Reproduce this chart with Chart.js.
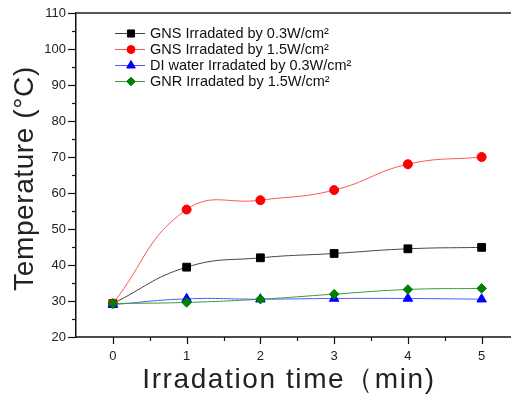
<!DOCTYPE html>
<html><head><meta charset="utf-8">
<script src="https://cdn.jsdelivr.net/npm/chart.js@4/dist/chart.umd.min.js"></script>
<style>html,body{margin:0;padding:0;background:#fff;overflow:hidden}#wrap{width:511px;height:399px}canvas{display:block}</style>
</head><body><div id="wrap"><canvas id="c" width="511" height="399"></canvas></div>
<script>
const times = [0, 1, 2, 3, 4, 5];
const gnsLow = [29.3, 39.4, 42.0, 43.2, 44.5, 44.9];
const gnsHigh = [29.3, 55.4, 58.0, 60.8, 68.0, 70.0];
const waterLow = [29.0, 30.6, 30.5, 30.7, 30.7, 30.5];
const gnrHigh = [29.3, 29.6, 30.5, 31.9, 33.2, 33.5];
const seriesLabels = ['GNS Irradated by 0.3W/cm²','GNS Irradated by 1.5W/cm²','DI water Irradated by 0.3W/cm²','GNR Irradated by 1.5W/cm²'];
const xTicks = [0, 1, 2, 3, 4, 5];
const yTicks = [20, 30, 40, 50, 60, 70, 80, 90, 100, 110];
const xTitle = 'Irradation time（min)';
const yTitle = 'Temperature (°C)';

function pts(arr){ return times.map((t,i)=>({x:t,y:arr[i]})); }
const styles = [
  {c:'#000000', p:'rect', r:5.5, order:4},
  {c:'#ff0000', p:'circle', r:4.5, order:3},
  {c:'#0000ff', p:'triangle', r:5.5, order:2},
  {c:'#008000', p:'rectRot', r:4.8, order:1}
];
const lineCols = ['#444444','#ff5555','#5555ff','#3a9a3a'];
const data = [gnsLow, gnsHigh, waterLow, gnrHigh];
const FONT = '"Liberation Sans", Arial, sans-serif';

const decor = {
  id:'decor',
  afterDraw(chart){
    const ctx = chart.ctx, xs = chart.scales.x, ys = chart.scales.y, a = chart.chartArea;
    ctx.save();
    // top frame
    ctx.strokeStyle = '#555'; ctx.lineWidth = 2;
    ctx.beginPath(); ctx.moveTo(a.left, a.top); ctx.lineTo(chart.width, a.top); ctx.stroke();
    // bottom axis line extended to the edge
    ctx.strokeStyle = '#111'; ctx.lineWidth = 1.5;
    ctx.beginPath(); ctx.moveTo(a.left, a.bottom); ctx.lineTo(chart.width, a.bottom); ctx.stroke();
    ctx.strokeStyle = '#111'; ctx.lineWidth = 1.2;
    // x ticks
    for (let v = 0; v <= 5.01; v += 0.5) {
      const px = Math.round(xs.getPixelForValue(v)) + 0.5;
      const len = (Math.abs(v - Math.round(v)) < 1e-6) ? 7 : 4;
      ctx.beginPath(); ctx.moveTo(px, a.bottom); ctx.lineTo(px, a.bottom + len); ctx.stroke();
    }
    // y ticks
    for (let v = 20; v <= 110.01; v += 5) {
      const py = Math.round(ys.getPixelForValue(v)) + 0.5;
      const len = (v % 10 === 0) ? 8 : 4;
      ctx.beginPath(); ctx.moveTo(a.left, py); ctx.lineTo(a.left - len, py); ctx.stroke();
    }
    // legend
    ctx.font = '14.5px ' + FONT;
    ctx.textBaseline = 'middle';
    const rows = [33, 49, 65, 81];
    for (let i = 0; i < 4; i++) {
      const y = rows[i];
      ctx.strokeStyle = lineCols[i]; ctx.lineWidth = 1;
      ctx.beginPath(); ctx.moveTo(115, y + 0.5); ctx.lineTo(145, y + 0.5); ctx.stroke();
      ctx.fillStyle = styles[i].c; ctx.strokeStyle = styles[i].c;
      Chart.helpers.drawPoint(ctx, {pointStyle: styles[i].p, radius: styles[i].r - 0.5, borderWidth: 1}, 131, y + 0.5);
      ctx.fillStyle = '#111';
      ctx.fillText(seriesLabels[i], 150, y + 1);
    }
    // axis titles
    ctx.fillStyle = '#222';
    ctx.font = '28px ' + FONT;
    ctx.textBaseline = 'alphabetic';
    ctx.textAlign = 'center';
    ctx.letterSpacing = '1.6px';
    ctx.fillText(xTitle, 289, 388);
    ctx.save();
    ctx.translate(33, 178.5);
    ctx.rotate(-Math.PI / 2);
    ctx.letterSpacing = '0.6px';
    ctx.fillText(yTitle, 0, 0);
    ctx.restore();
    ctx.restore();
  }
};

new Chart(document.getElementById('c'), {
  type: 'line',
  data: {
    datasets: data.map((d,i)=>({
      label: seriesLabels[i],
      data: pts(d),
      borderColor: lineCols[i],
      borderWidth: 1,
      backgroundColor: styles[i].c,
      pointBackgroundColor: styles[i].c,
      pointBorderColor: styles[i].c,
      pointStyle: styles[i].p,
      pointRadius: styles[i].r,
      pointBorderWidth: 1,
      tension: 0.45,
      order: styles[i].order,
      clip: false
    }))
  },
  options: {
    responsive: false,
    animation: false,
    events: [],
    layout: {padding: {top: 13, right: 0, left: 0, bottom: 0}},
    plugins: {legend: {display: false}, tooltip: {enabled: false}},
    scales: {
      x: {
        type: 'linear', min: -0.5, max: 5.31,
        afterBuildTicks(s){ s.ticks = xTicks.map(v=>({value:v})); },
        afterFit(s){ s.height = 62; s.paddingLeft = 0; s.paddingRight = 0; },
        grid: {display: false, drawTicks: false},
        border: {display: false},
        ticks: {color: '#222', font: {size: 13, family: FONT}, padding: 12, maxRotation: 0, autoSkip: false},
        title: {display: false}
      },
      y: {
        min: 20, max: 110,
        afterBuildTicks(s){ s.ticks = yTicks.map(v=>({value:v})); },
        afterFit(s){ s.width = 76; s.paddingTop = 0; s.paddingBottom = 0; },
        grid: {display: false, drawTicks: false},
        border: {display: true, color: '#111', width: 1.5},
        ticks: {color: '#222', font: {size: 13, family: FONT}, padding: 10, autoSkip: false},
        title: {display: false}
      }
    }
  },
  plugins: [decor]
});
</script></body></html>
